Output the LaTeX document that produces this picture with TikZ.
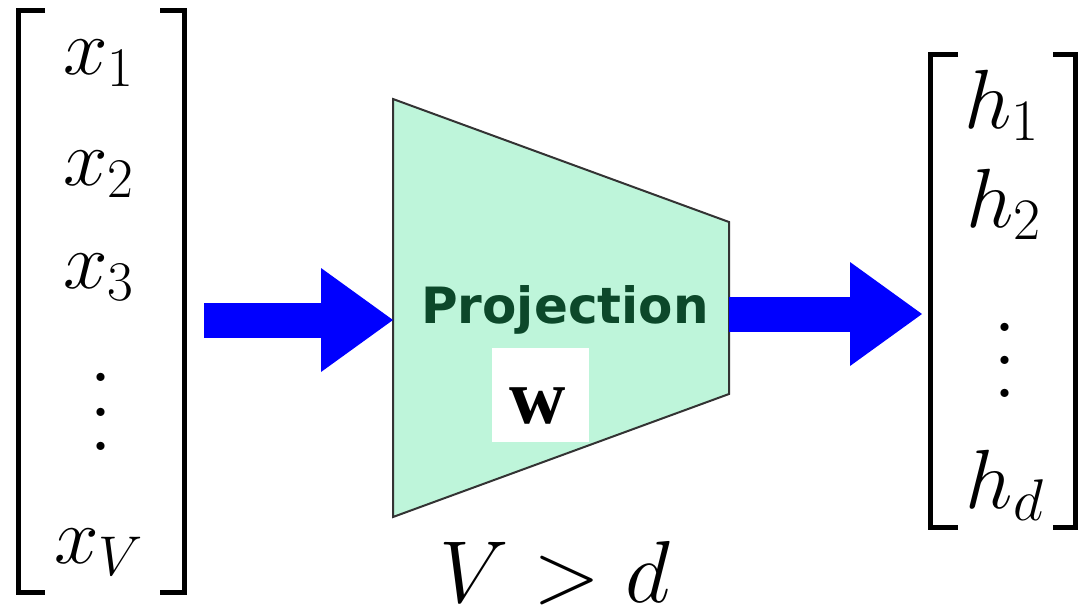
\RequirePackage{fix-cm}
\documentclass[tikz,border=0pt]{standalone}
\usepackage{amsmath}
\usepackage{fontspec}
\newfontfamily\projfont{DejaVu Sans}
\newfontfamily\wfont{Liberation Serif Bold}
\usepackage{tikz}
\usetikzlibrary{arrows.meta,calc}
\definecolor{projfill}{RGB}{190,245,218}
\definecolor{projtext}{RGB}{12,72,42}
\definecolor{arrblue}{RGB}{0,0,255}
\newcommand{\tallvdots}[1]{\vbox{\baselineskip=#1\lineskiplimit=0pt\hbox{.}\hbox{.}\hbox{.}}}
\tikzset{brack/.style={line width=2.5pt,line cap=butt,line join=miter},
         blockarr/.style={arrblue,line width=17.5pt,
           -{Triangle[length=36pt,width=52pt,line width=0pt]}},
         xent/.style={anchor=base,inner sep=0pt,font=\fontsize{40}{48}\selectfont},
         hent/.style={anchor=base,inner sep=0pt,font=\fontsize{42}{50}\selectfont},
         dotcol/.style={inner sep=0pt,font=\fontsize{50}{60}\selectfont},
         projbox/.style={fill=projfill,draw=black!80,line width=1pt,line join=miter},
         wbox/.style={fill=white,inner sep=0pt,minimum width=48.5pt,minimum height=47pt}}

\begin{document}
\begin{tikzpicture}[x=0.5pt,y=-0.5pt]
  \useasboundingbox (0,0) rectangle (1078,607);
  \draw[brack] (45,10.5)--(18.5,10.5)--(18.5,592.5)--(45,592.5);
  \draw[brack] (160,10.5)--(184.5,10.5)--(184.5,592.5)--(160,592.5);
  \node[xent] (x1) at (99,74) {$x_1$};
  \node[xent] (x2) at (99,185) {$x_2$};
  \node[xent] (x3) at (99,288) {$x_3$};
  \node[dotcol] (xdots) at (101,412) {\tallvdots{17.25pt}};
  \node[xent] (xv) at (99,563) {$x_V$};
  \draw[projbox] (393,99)--(729,222)--(729,394)--(393,517)--cycle;
  \coordinate (proj-w) at (393,320);
  \coordinate (proj-e) at (729,314);
  \coordinate (in-tail) at (204,320);
  \coordinate (out-tip) at (922,314);
  \node[anchor=base,inner sep=0pt,text=projtext,font=\projfont\bfseries\fontsize{25}{30}\selectfont] (proj) at (565,323) {Projection};
  \node[wbox] (wb) at (540.5,395) {};
  \node[anchor=base,inner sep=0pt,font=\wfont\fontsize{39}{46}\selectfont] (w) at (538,423) {w};
  \node[anchor=base,inner sep=0pt,font=\fontsize{44}{52}\selectfont] (cond) at (555,602) {$V > d$};
  \draw[blockarr] (in-tail) -- (proj-w);
  \draw[blockarr] (proj-e) -- (out-tip);
  \draw[brack] (958,54.5)--(930.5,54.5)--(930.5,527.5)--(958,527.5);
  \draw[brack] (1053,54.5)--(1075,54.5)--(1075,527.5)--(1053,527.5);
  \node[hent] (h1) at (1002,128) {$h_1$};
  \node[hent] (h2) at (1004,227) {$h_2$};
  \node[dotcol] (hdots) at (1005,360) {\tallvdots{16.5pt}};
  \node[hent] (hd) at (1005,508) {$h_d$};
\end{tikzpicture}
\end{document}
